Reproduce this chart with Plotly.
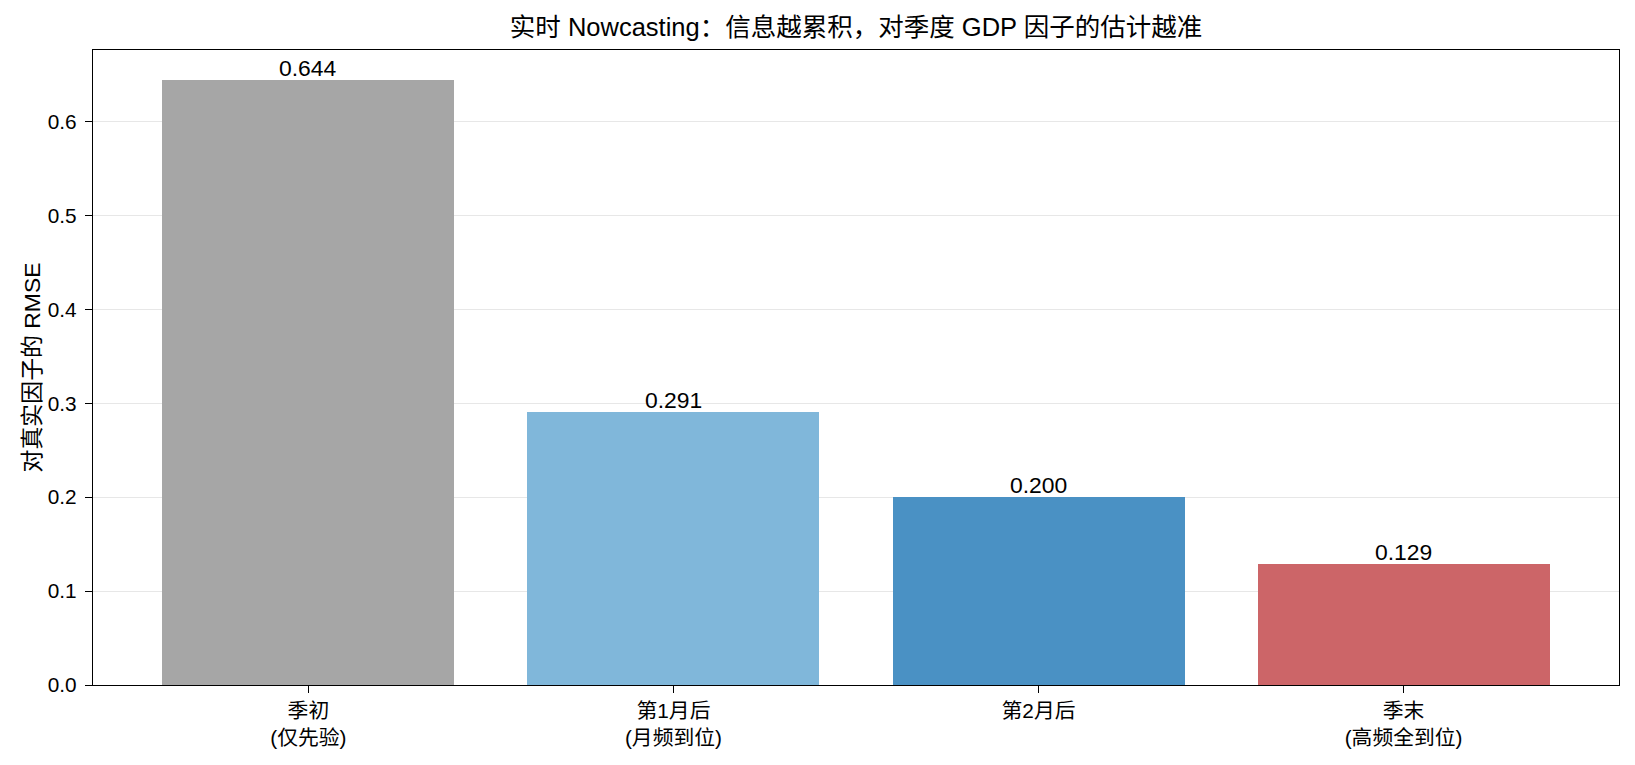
import plotly.graph_objects as go

categories = ["季初<br>(仅先验)", "第1月后<br>(月频到位)", "第2月后", "季末<br>(高频全到位)"]
rmse_values = [0.644, 0.291, 0.200, 0.129]
bar_colors = ["#a6a6a6", "#80b7da", "#4a91c4", "#cc6568"]
y_ticks = [0.0, 0.1, 0.2, 0.3, 0.4, 0.5, 0.6]

FONT = "Liberation Sans, Arial, Noto Sans CJK SC, sans-serif"
xs = list(range(len(categories)))

fig = go.Figure()
fig.add_trace(go.Bar(
    x=xs,
    y=rmse_values,
    width=0.8,
    marker=dict(color=bar_colors, line=dict(width=0)),
    hoverinfo="x+y",
))

for x, v in zip(xs, rmse_values):
    fig.add_annotation(x=x, y=v, text=f"{v:.3f}", showarrow=False,
                       xanchor="center", yanchor="bottom", yshift=-3,
                       font=dict(family=FONT, size=22.9, color="black"))

fig.update_layout(
    width=1635, height=765,
    margin=dict(l=93, r=16, t=50, b=80),
    paper_bgcolor="white", plot_bgcolor="white",
    font=dict(family=FONT, size=20.8, color="black"),
    showlegend=False,
    title=dict(text="实时 Nowcasting：信息越累积，对季度 GDP 因子的估计越准",
               x=0.5 * (93 + 1619) / 1635, xanchor="center", y=1 - 27 / 765, yanchor="middle",
               font=dict(family=FONT, size=25.5, color="black")),
    xaxis=dict(
        range=[-0.59, 3.59],
        tickmode="array", tickvals=xs, ticktext=categories,
        showgrid=False, zeroline=False,
        showline=True, linecolor="black", linewidth=1.4, mirror=True,
        ticks="outside", ticklen=7, tickwidth=1.4, tickcolor="black",
        tickfont=dict(family=FONT, size=20.8),
    ),
    yaxis=dict(
        range=[0, 0.6762],
        tickmode="array", tickvals=y_ticks, ticktext=[f"{t:.1f}" for t in y_ticks],
        showgrid=True, gridcolor="rgba(176,176,176,0.3)", gridwidth=1,
        zeroline=False,
        showline=True, linecolor="black", linewidth=1.4, mirror=True,
        ticks="outside", ticklen=7, tickwidth=1.4, tickcolor="black",
        ticklabelstandoff=4,
        tickfont=dict(family=FONT, size=20.8),
        title=dict(text="对真实因子的 RMSE", font=dict(family=FONT, size=22.9), standoff=0),
    ),
    bargap=0,
)

fig.write_html("out.html")
